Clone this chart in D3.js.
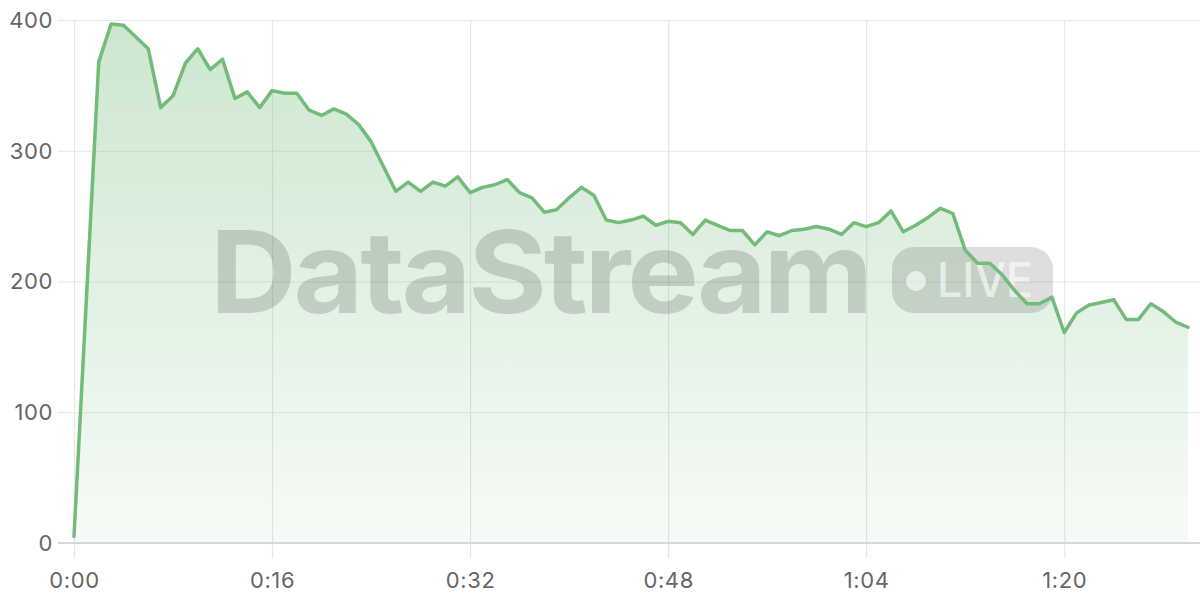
<!DOCTYPE html>
<html>
<head>
<meta charset="utf-8">
<script src="https://cdn.jsdelivr.net/npm/d3@7"></script>
<style>
  html, body { margin: 0; padding: 0; background: #fff; }
  svg { display: block; }
  .tick text { font-family: Inter, "Noto Sans", sans-serif; font-size: 22px; letter-spacing: 0.6px; fill: #666; }
</style>
</head>
<body>
<svg id="chart" width="1200" height="600"></svg>
<script>
// ---- data ----
const times = [0,2,3,4,5,6,7,8,9,10,11,12,13,14,15,16,17,18,19,20,21,22,23,24,25,26,27,28,29,30,
  31,32,33,34,35,36,37,38,39,40,41,42,43,44,45,46,47,48,49,50,51,52,53,54,55,56,57,58,59,60,
  61,62,63,64,65,66,67,68,69,70,71,72,73,74,75,76,77,78,79,80,81,82,83,84,85,86,87,88,89,90];
const values = [5,368,397,396,387,378,333,342,367,378,362,370,340,345,333,346,344,344,331,327,332,328,320,307,288,269,276,269,276,273,
  280,268,272,274,278,268,264,253,255,264,272,266,247,245,247,250,243,246,245,236,247,243,239,239,228,238,235,239,240,242,
  240,236,245,242,245,254,238,243,249,256,252,224,214,214,205,193,183,183,188,161,176,182,184,186,171,171,183,177,169,165];
const xTicks = [0,16,32,48,64,80];
const yTicks = [0,100,200,300,400];
const watermark = "DataStream";
const badge = "LIVE";

// ---- layout ----
const svg = d3.select("#chart");
const x = d3.scaleLinear().domain([0, 90]).range([74, 1188]);
const y = d3.scaleLinear().domain([0, 400]).range([543, 20]);
const data = times.map((t, i) => ({ t, v: values[i] }));
const lineColor = "#72bb78";

const fmt = s => Math.floor(s / 60) + ":" + String(s % 60).padStart(2, "0");

// gradient
const defs = svg.append("defs");
const grad = defs.append("linearGradient").attr("id", "fillGrad")
  .attr("gradientUnits", "userSpaceOnUse").attr("x1", 0).attr("x2", 0)
  .attr("y1", y(400)).attr("y2", y(0));
grad.append("stop").attr("offset", 0).attr("stop-color", lineColor).attr("stop-opacity", 0.36);
grad.append("stop").attr("offset", 1).attr("stop-color", lineColor).attr("stop-opacity", 0.06);

// y axis with grid
const yAxis = d3.axisLeft(y).tickValues(yTicks).tickSize(-(1200 - 74)).tickPadding(22);
const gy = svg.append("g").attr("transform", "translate(74,0)").call(yAxis);
gy.select(".domain").remove();
gy.selectAll(".tick line").attr("stroke", "#e6e6e6").attr("stroke-width", 1.2)
  .attr("x1", -16).attr("x2", 1200 - 74);
gy.selectAll(".tick text").attr("x", -21).attr("dy", "0.34em");

// x axis with grid
const xAxis = d3.axisBottom(x).tickValues(xTicks).tickFormat(fmt).tickSize(0).tickPadding(0);
const gx = svg.append("g").attr("transform", "translate(0,543)").call(xAxis);
gx.select(".domain").remove();
gx.selectAll(".tick line").attr("stroke", "#e6e6e6").attr("stroke-width", 1.2)
  .attr("y1", y(400) - 543).attr("y2", 15);
gx.selectAll(".tick text").attr("y", 45).attr("dy", 0);

// area
const area = d3.area().x(d => x(d.t)).y0(y(0)).y1(d => y(d.v));
svg.append("path").datum(data).attr("d", area).attr("fill", "url(#fillGrad)");

// baseline
svg.append("line").attr("x1", 58).attr("x2", 1200).attr("y1", y(0)).attr("y2", y(0))
  .attr("stroke", "#cfcfcf").attr("stroke-width", 1.5);

// watermark
const wm = svg.append("g").attr("pointer-events", "none");
wm.append("text").attr("x", 210).attr("y", 313)
  .attr("font-family", "Inter, 'Noto Sans', sans-serif").attr("font-weight", 700)
  .attr("font-size", 114).attr("letter-spacing", -3)
  .attr("textLength", 660).attr("lengthAdjust", "spacingAndGlyphs")
  .attr("fill", "#000").attr("fill-opacity", 0.15).text(watermark);
wm.append("rect").attr("x", 892).attr("y", 247).attr("width", 161).attr("height", 66).attr("rx", 22)
  .attr("fill", "#000").attr("fill-opacity", 0.13);
wm.append("circle").attr("cx", 916).attr("cy", 281).attr("r", 10)
  .attr("fill", "#fff").attr("fill-opacity", 0.6);
wm.append("text").attr("x", 937).attr("y", 297)
  .attr("font-family", "Inter, 'Noto Sans', sans-serif").attr("font-weight", 500)
  .attr("font-size", 48).attr("textLength", 96).attr("lengthAdjust", "spacingAndGlyphs")
  .attr("fill", "#fff").attr("fill-opacity", 0.6).text(badge);

// line
const line = d3.line().x(d => x(d.t)).y(d => y(d.v));
svg.append("path").datum(data).attr("d", line).attr("fill", "none")
  .attr("stroke", lineColor).attr("stroke-width", 3.5).attr("stroke-linejoin", "round").attr("stroke-linecap", "round");
</script>
</body>
</html>
